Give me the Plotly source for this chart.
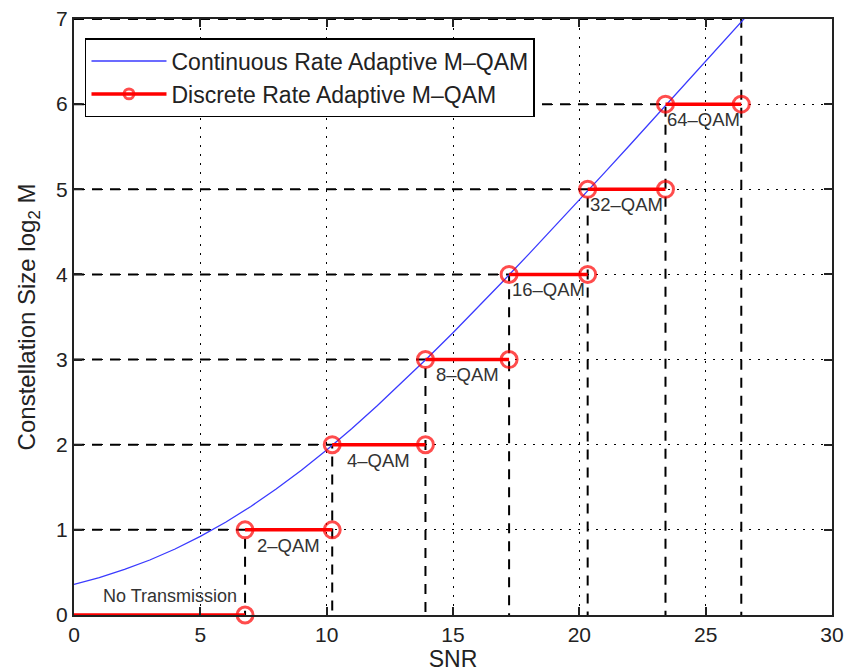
import plotly.graph_objects as go

# ---------------- data ----------------
snr_db = list(range(0, 28))
cont_rate = [0.36, 0.44, 0.535, 0.646, 0.775, 0.923, 1.089, 1.275, 1.479, 1.70,
             1.938, 2.191, 2.457, 2.734, 3.021, 3.316, 3.618, 3.926, 4.238, 4.555,
             4.874, 5.196, 5.52, 5.846, 6.173, 6.501, 6.83, 7.16]

# SNR switching thresholds (dB) where the discrete rate steps up
thresholds = [6.77, 10.22, 13.91, 17.22, 20.33, 23.41, 26.41]
levels = [0, 1, 2, 3, 4, 5, 6]
qam_labels = ["No Transmission", "2\u2013QAM", "4\u2013QAM", "8\u2013QAM",
              "16\u2013QAM", "32\u2013QAM", "64\u2013QAM"]

x_ticks = [0, 5, 10, 15, 20, 25, 30]
y_ticks = [0, 1, 2, 3, 4, 5, 6, 7]

FONT = "Liberation Sans, Arial, Helvetica, sans-serif"

fig = go.Figure()

# dashed guide lines from axes to each threshold point
gx, gy = [], []
for i, t in enumerate(thresholds):
    L = levels[i] + 1
    gx += [0, t, t, None]
    gy += [L, L, 0, None]
fig.add_trace(go.Scatter(x=gx, y=gy, mode="lines", showlegend=False,
                         hoverinfo="skip",
                         line=dict(color="black", width=2, dash="10px,8px")))

# continuous rate curve
fig.add_trace(go.Scatter(x=snr_db, y=cont_rate, mode="lines",
                         name="Continuous Rate Adaptive M\u2013QAM",
                         line=dict(color="#3a3aff", width=1.3)))

# discrete rate steps
starts = [0] + thresholds[:-1]
dx, dy, ms = [], [], []
for s, e, L in zip(starts, thresholds, levels):
    dx += [s, e, None]
    dy += [L, L, None]
    ms += [0 if s == 0 else 16, 16, 0]
fig.add_trace(go.Scatter(x=dx, y=dy, mode="lines+markers",
                         name="Discrete Rate Adaptive M\u2013QAM",
                         cliponaxis=False,
                         line=dict(color="#ff0000", width=3.5),
                         marker=dict(symbol="circle-open", size=ms, color="#ff0000",
                                     line=dict(width=3, color="#ff0000"))))

# labels
for s, e, L, lab in zip(starts, thresholds, levels, qam_labels):
    if L == 0:
        fig.add_annotation(x=3.8, y=L + 0.22, text=lab, showarrow=False,
                           font=dict(family=FONT, size=18, color="#333333"))
    else:
        fig.add_annotation(x=(s + e) / 2, y=L - 0.18, text=lab, showarrow=False,
                           font=dict(family=FONT, size=18.5, color="#333333"))

axis_common = dict(showline=True, linecolor="#222222", linewidth=2, mirror="allticks",
                   ticks="inside", ticklen=8, tickwidth=1.5, tickcolor="#222222",
                   showgrid=True, gridcolor="black", gridwidth=1.3, griddash="2px,7px",
                   zeroline=False, automargin=False,
                   tickfont=dict(family=FONT, size=21, color="#222222"))

fig.update_xaxes(range=[0, 30], tickvals=x_ticks,
                 title=dict(text="SNR", font=dict(family=FONT, size=23, color="#222222"),
                            standoff=6),
                 **axis_common)
fig.update_yaxes(range=[0, 7], tickvals=y_ticks,
                 title=dict(text="Constellation Size log<sub>2</sub> M",
                            font=dict(family=FONT, size=24, color="#222222"), standoff=14),
                 **axis_common)

fig.update_layout(
    width=846, height=672,
    margin=dict(l=74, r=14, t=19, b=57, autoexpand=False),
    plot_bgcolor="white", paper_bgcolor="white",
    font=dict(family=FONT, color="#222222"),
    legend=dict(x=0.0145, y=0.968, xanchor="left", yanchor="top",
                bgcolor="white", bordercolor="black", borderwidth=1.5,
                font=dict(family=FONT, size=23, color="#222222"),
                itemwidth=75, tracegroupgap=0),
)

fig.write_html("out.html")
